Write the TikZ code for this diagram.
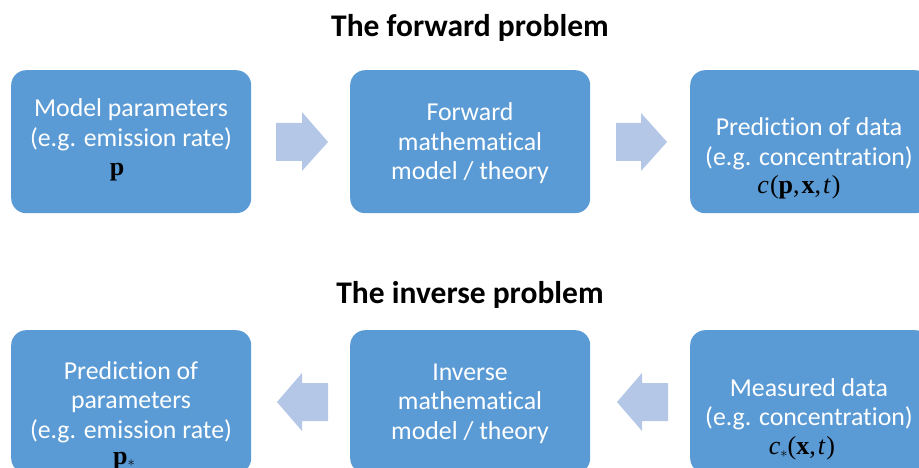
\documentclass[tikz,border=0pt]{standalone}
\usepackage{fontspec}
\setmainfont[Ligatures={NoCommon}]{Carlito}
\newfontfamily\tnr{Liberation Serif}
\definecolor{boxblue}{HTML}{5B9BD5}
\definecolor{arrowblue}{HTML}{B4C7E7}
\begin{document}
\begin{tikzpicture}[x=1pt,y=-1pt,
  box/.style={fill=boxblue, rounded corners=15pt, minimum width=240pt, minimum height=143pt, inner sep=0pt, anchor=north west},
  txt/.style={text=white, font=\fontsize{25.8}{29.5}\selectfont, align=center, inner sep=0pt},
  mth/.style={text=black, font=\tnr\fontsize{26}{30}\selectfont, inner sep=0pt},
  ttl/.style={font=\bfseries\fontsize{31.5}{36}\selectfont},
  barrow/.style={fill=arrowblue}]
\useasboundingbox (0,0) rectangle (919,468);
\clip (0,0) rectangle (919,468);
% titles
\node[ttl] (t1) at (470,28) {The forward problem};
\node[ttl] (t2) at (470,295) {The inverse problem};
% row 1 boxes
\node[box] (a1) at (11,70) {};
\node[box] (a2) at (350,70) {};
\node[box] (a3) at (690,70) {};
% row 2 boxes
\node[box] (b1) at (11,330) {};
\node[box] (b2) at (350,330) {};
\node[box] (b3) at (690,330) {};
% row 1 texts
\node[txt] (a1t) at (131,125) {Model parameters\\(e.g. emission rate)};
\node[mth] (a1m) at (117,172) {\textbf{p}};
\node[txt] (a2t) at (470,143.5) {Forward\\mathematical\\model / theory};
\node[txt] (a3t) at (809,144) {Prediction of data\\(e.g. concentration)};
\node[mth] (a3m) at (799,187) {\textit{c}\kern1pt(\textbf{p},\kern2pt\textbf{x},\kern2pt\textit{t}\kern1pt)};
% row 2 texts
\node[txt] (b1t) at (131,402) {Prediction of\\parameters\\(e.g. emission rate)};
\node[mth] (b1m) at (124,461) {\textbf{p}\raisebox{-0.2ex}{\fontsize{15}{15}\selectfont$\ast$}};
\node[txt] (b2t) at (470,403.5) {Inverse\\mathematical\\model / theory};
\node[txt] (b3t) at (809,404.5) {Measured data\\(e.g. concentration)};
\node[mth] (b3m) at (802,448) {\textit{c}\raisebox{-0.3ex}{\fontsize{15}{15}\selectfont$\ast$}(\textbf{x},\kern2pt\textit{t}\kern1pt)};
% block arrows
\path[barrow] (276,123) -- (302,123) -- (302,112) -- (328,142) -- (302,171) -- (302,161) -- (276,161) -- cycle;
\path[barrow] (616,123) -- (641,123) -- (641,113) -- (667,142) -- (641,171) -- (641,161) -- (616,161) -- cycle;
\path[barrow] (328,383) -- (302,383) -- (302,373) -- (277,402) -- (302,431) -- (302,421) -- (328,421) -- cycle;
\path[barrow] (668,383) -- (642,383) -- (642,373) -- (617,402) -- (642,431) -- (642,421) -- (668,421) -- cycle;
\end{tikzpicture}
\end{document}
